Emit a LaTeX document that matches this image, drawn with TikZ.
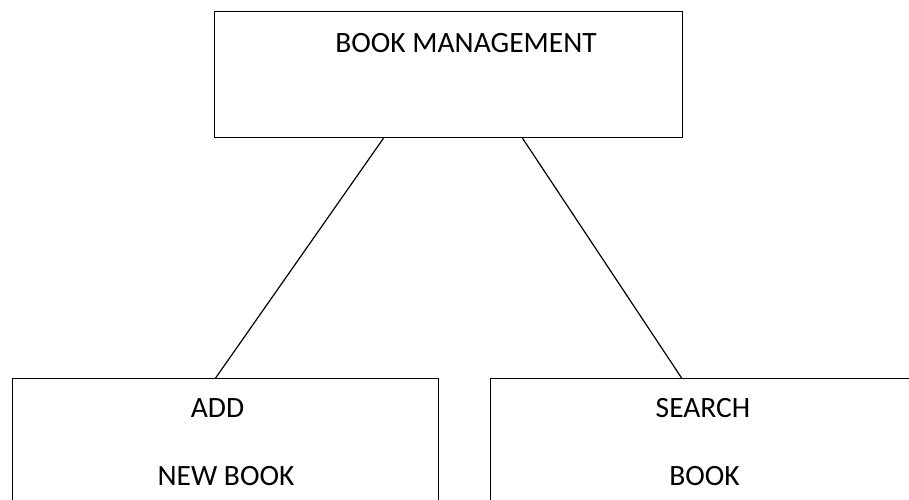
\documentclass[tikz,border=0pt]{standalone}
\usepackage{fontspec}
\setmainfont{Carlito}
\usetikzlibrary{shapes,positioning}
\tikzstyle{block} = [draw, line width=1.2pt, rectangle, inner sep=0pt]
\tikzstyle{caption} = [font=\fontsize{29.5}{35}\selectfont, inner sep=0pt, anchor=base]

\begin{document}
\begin{tikzpicture}[x=1pt, y=-1pt, line width=1.2pt]
\useasboundingbox (0,0) rectangle (909,499);
\clip (0,0) rectangle (909,499);

\node[block, name=mgmt, minimum width=468pt, minimum height=126pt, anchor=north west] at (213.5,11) {};
\node[block, name=addbook, minimum width=426pt, minimum height=160pt, anchor=north west] at (12,378) {};
\node[block, name=search, minimum width=440pt, minimum height=160pt, anchor=north west] at (490,378) {};

\node[caption, name=t1] at (466,52) {BOOK MANAGEMENT};
\node[caption, name=t2] at (217.5,417) {ADD};
\node[caption, name=t3] at (226,485) {NEW BOOK};
\node[caption, name=t4] at (703,417) {SEARCH};
\node[caption, name=t5] at (704.5,485) {BOOK};

\draw ([xshift=-64.6pt]mgmt.south) -- ([xshift=-10pt]addbook.north);
\draw ([xshift=74.4pt]mgmt.south) -- ([xshift=-29pt]search.north);
\end{tikzpicture}
\end{document}
